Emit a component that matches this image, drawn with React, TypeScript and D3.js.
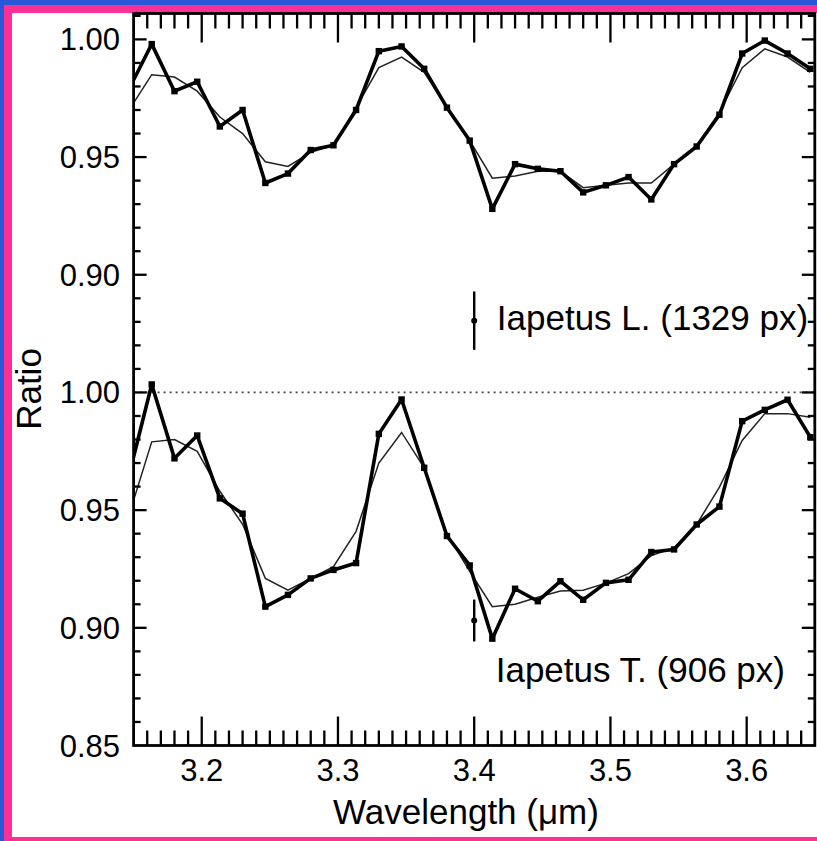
import React, { useEffect, useRef } from 'react'
import * as d3 from 'd3';

// wavelength grid (um)
const wavelength = [
  3.1467, 3.1633, 3.18, 3.1967, 3.2133, 3.23, 3.2467, 3.2633, 3.28, 3.2967,
  3.3133, 3.33, 3.3467, 3.3633, 3.38, 3.3967, 3.4133, 3.43, 3.4467, 3.4633,
  3.48, 3.4967, 3.5133, 3.53, 3.5467, 3.5633, 3.58, 3.5967, 3.6133, 3.63, 3.6467
];

// Iapetus L. (1329 px) - measured ratio and model (shifted up by 0.15 in the plot)
const leadingRatio = [
  0.979, 0.998, 0.978, 0.982, 0.963, 0.970, 0.939, 0.943, 0.953, 0.955,
  0.970, 0.995, 0.997, 0.9875, 0.971, 0.957, 0.928, 0.947, 0.945, 0.944,
  0.935, 0.938, 0.9415, 0.932, 0.947, 0.9545, 0.968, 0.994, 0.9995, 0.994, 0.9875
];
const leadingModel = [
  0.970, 0.985, 0.984, 0.978, 0.967, 0.960, 0.948, 0.946, 0.952, 0.955,
  0.971, 0.988, 0.9925, 0.986, 0.971, 0.957, 0.941, 0.942, 0.944, 0.944,
  0.937, 0.938, 0.939, 0.939, 0.947, 0.955, 0.969, 0.988, 0.996, 0.9925, 0.986
];

// Iapetus T. (906 px)
const trailingRatio = [
  0.965, 1.0034, 0.972, 0.9817, 0.955, 0.9485, 0.909, 0.914, 0.921, 0.9246,
  0.9275, 0.9824, 0.997, 0.968, 0.939, 0.9265, 0.8954, 0.9166, 0.9113, 0.9198,
  0.9119, 0.9191, 0.9204, 0.9322, 0.9333, 0.9439, 0.9515, 0.9878, 0.9926, 0.9969, 0.981
];
const trailingModel = [
  0.948, 0.979, 0.980, 0.975, 0.958, 0.944, 0.921, 0.916, 0.921, 0.926,
  0.941, 0.970, 0.983, 0.968, 0.940, 0.924, 0.909, 0.910, 0.913, 0.9156,
  0.916, 0.919, 0.923, 0.9307, 0.934, 0.9439, 0.9598, 0.9796, 0.991, 0.991, 0.9895
];

const panelOffset = [0.15, 0];
const panelNames = ['Iapetus L. (1329 px)', 'Iapetus T. (906 px)'];
// representative error bar for each panel (centre, half length)
const errCentre = [0.8805, 0.9031];
const errHalf = [0.0124, 0.0089];
const errWavelength = 3.40;

const xTickValues = [3.2, 3.3, 3.4, 3.5, 3.6];
const yTickValues = [1.15, 1.10, 1.05, 1.00, 0.95, 0.90, 0.85];
const yTickLabels = ['1.00', '0.95', '0.90', '1.00', '0.95', '0.90', '0.85'];

const W = 817, H = 841;
const FONT = '"Liberation Sans", Arial, Helvetica, sans-serif';

function App() {
  const ref = useRef<SVGSVGElement>(null);

  useEffect(() => {
    const svg = d3.select(ref.current);
    svg.selectAll('*').remove();

    // frame
    svg.append('rect').attr('width', W).attr('height', H).attr('fill', '#2a57d8');
    svg.append('rect').attr('x', 4).attr('y', 5).attr('width', W - 4).attr('height', H - 5).attr('fill', '#fb2f94');
    svg.append('rect').attr('x', 12).attr('y', 13).attr('width', W - 12).attr('height', 824).attr('fill', '#ffffff');

    const x = d3.scaleLinear().domain([3.15, 3.65]).range([133.6, 814.8]);
    const y = d3.scaleLinear().domain([0.85, 1.161]).range([745.5, 13.5]);
    const [x0, x1] = x.range();
    const [y0, y1] = y.range();

    svg.append('clipPath').attr('id', 'plot-clip')
      .append('rect').attr('x', x0).attr('y', y1).attr('width', x1 - x0).attr('height', y0 - y1);

    // dotted reference line at 1.00 of lower panel
    svg.append('line')
      .attr('x1', x0).attr('x2', x1)
      .attr('y1', y(1.0)).attr('y2', y(1.0))
      .attr('stroke', '#444').attr('stroke-width', 1.8)
      .attr('stroke-dasharray', '2,4');

    const g = svg.append('g').attr('clip-path', 'url(#plot-clip)');

    const series = [
      { ratio: leadingRatio, model: leadingModel },
      { ratio: trailingRatio, model: trailingModel },
    ];

    series.forEach((s, p) => {
      const off = panelOffset[p];
      const line = d3.line<number>()
        .x((d, i) => x(wavelength[i]))
        .y(d => y(d + off));

      g.append('path')
        .attr('d', line(s.model))
        .attr('fill', 'none')
        .attr('stroke', '#222')
        .attr('stroke-width', 1.5);

      g.append('path')
        .attr('d', line(s.ratio))
        .attr('fill', 'none')
        .attr('stroke', '#000')
        .attr('stroke-width', 3.6)
        .attr('stroke-linejoin', 'round');

      g.selectAll(null)
        .data(s.ratio)
        .enter()
        .append('rect')
        .attr('x', (d, i) => x(wavelength[i]) - 3.2)
        .attr('y', d => y(d + off) - 3.2)
        .attr('width', 6.4)
        .attr('height', 6.4)
        .attr('fill', '#000');

      // error bar
      const ex = x(errWavelength);
      svg.append('line')
        .attr('x1', ex).attr('x2', ex)
        .attr('y1', y(errCentre[p] + off - errHalf[p]))
        .attr('y2', y(errCentre[p] + off + errHalf[p]))
        .attr('stroke', '#000').attr('stroke-width', 2.4);
      svg.append('circle')
        .attr('cx', ex).attr('cy', y(errCentre[p] + off))
        .attr('r', 3).attr('fill', '#000');
    });

    // panel labels
    svg.append('text')
      .attr('x', x(3.4166)).attr('y', y(1.0265))
      .style('font-family', FONT).style('font-size', '35px')
      .text(panelNames[0]);
    svg.append('text')
      .attr('x', x(3.4158)).attr('y', y(0.8771))
      .style('font-family', FONT).style('font-size', '35px')
      .text(panelNames[1]);

    // axes frame
    svg.append('rect')
      .attr('x', x0).attr('y', y1)
      .attr('width', x1 - x0).attr('height', y0 - y1)
      .attr('fill', 'none').attr('stroke', '#000').attr('stroke-width', 2.8);

    const ticks = svg.append('g').attr('stroke', '#000').attr('stroke-width', 2.3);

    // x ticks, bottom and top
    const xMinor = d3.range(316, 365).map(d => d / 100);
    xMinor.forEach(v => {
      const major = xTickValues.some(t => Math.abs(t - v) < 1e-6);
      const len = major ? 29 : 15;
      ticks.append('line').attr('x1', x(v)).attr('x2', x(v)).attr('y1', y0).attr('y2', y0 - len);
      ticks.append('line').attr('x1', x(v)).attr('x2', x(v)).attr('y1', y1).attr('y2', y1 + len);
    });

    // y ticks, left and right
    const yMinor = d3.range(86, 117).map(d => d / 100);
    yMinor.forEach(v => {
      const major = yTickValues.some(t => Math.abs(t - v) < 1e-6);
      const len = major ? 13 : 7;
      ticks.append('line').attr('x1', x0).attr('x2', x0 + len).attr('y1', y(v)).attr('y2', y(v));
      ticks.append('line').attr('x1', x1).attr('x2', x1 - len).attr('y1', y(v)).attr('y2', y(v));
    });

    // tick labels
    svg.append('g').selectAll('text')
      .data(xTickValues)
      .enter().append('text')
      .attr('x', d => x(d)).attr('y', 781)
      .attr('text-anchor', 'middle')
      .style('font-family', FONT).style('font-size', '31px')
      .text(d => d.toFixed(1));

    svg.append('g').selectAll('text')
      .data(yTickValues)
      .enter().append('text')
      .attr('x', 120).attr('y', d => y(d) + 11)
      .attr('text-anchor', 'end')
      .style('font-family', FONT).style('font-size', '31px')
      .text((d, i) => yTickLabels[i]);

    // axis titles
    svg.append('text')
      .attr('transform', 'translate(41, 389) rotate(-90)')
      .attr('text-anchor', 'middle')
      .style('font-family', FONT).style('font-size', '35px')
      .text('Ratio');
    svg.append('text')
      .attr('x', 466).attr('y', 824)
      .attr('text-anchor', 'middle')
      .style('font-family', FONT).style('font-size', '35px')
      .text('Wavelength (\u03BCm)');
  }, []);

  return (
    <svg ref={ref} width={W} height={H}
      style={{ position: 'absolute', left: 0, top: 0, display: 'block' }} />
  );
}

export default App;
